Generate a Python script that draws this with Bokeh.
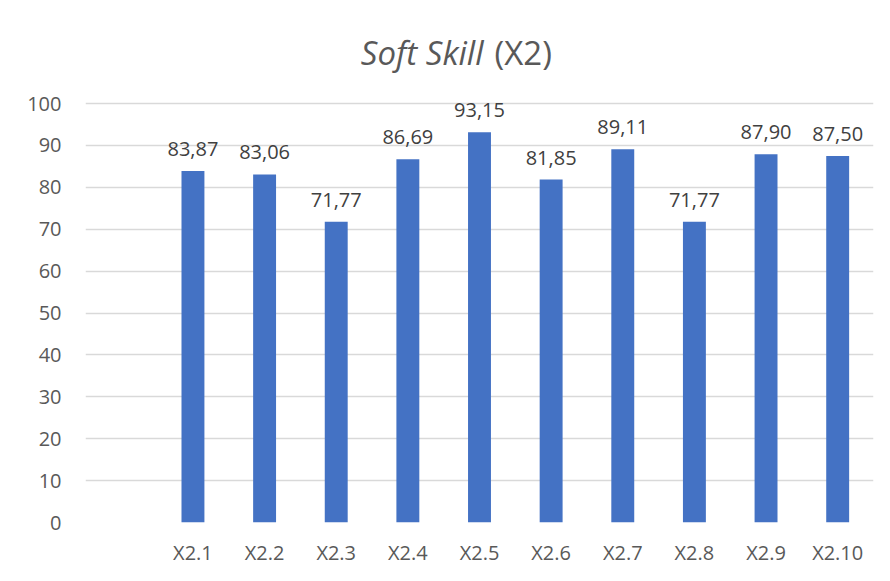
from bokeh.plotting import figure
from bokeh.models import FactorRange, Range1d, ColumnDataSource, LabelSet, Label, FixedTicker
from bokeh.core.properties import value
from bokeh.embed import file_html
from bokeh.resources import INLINE

categories = [" ", "X2.1", "X2.2", "X2.3", "X2.4", "X2.5", "X2.6", "X2.7", "X2.8", "X2.9", "X2.10"]
bar_categories = categories[1:]
values = [83.87, 83.06, 71.77, 86.69, 93.15, 81.85, 89.11, 71.77, 87.90, 87.50]
y_ticks = [0, 10, 20, 30, 40, 50, 60, 70, 80, 90, 100]
title_main = "Soft Skill"
title_sub = "(X2)"

FONT = "Open Sans"

src = ColumnDataSource(dict(
    x=bar_categories,
    top=values,
    lbl=[f"{v:.2f}".replace(".", ",") for v in values],
))

# frame extends above 100 so the title lives inside the frame (not clipped)
FRAME_H = 502
Y_END = 100 * FRAME_H / 419.0

p = figure(
    x_range=FactorRange(*categories, range_padding=0),
    y_range=Range1d(0, Y_END),
    frame_width=788, frame_height=FRAME_H,
    min_border_left=85, min_border_right=5, min_border_top=20, min_border_bottom=50,
    output_backend="svg", toolbar_location=None,
)
p.outline_line_color = None
p.background_fill_color = "white"
p.border_fill_color = "white"

p.vbar(x="x", top="top", width=0.32, source=src, fill_color="#4472C4", line_color=None)

labels = LabelSet(x="x", y="top", text="lbl", source=src, y_offset=15,
                  text_align="center", text_baseline="alphabetic",
                  text_font=value(FONT), text_font_size="20px", text_color="#404040")
p.add_layout(labels)

p.yaxis.ticker = FixedTicker(ticks=y_ticks)
p.yaxis.axis_line_color = None
p.yaxis.major_tick_line_color = None
p.yaxis.minor_tick_line_color = None
p.yaxis.major_label_standoff = 18
p.yaxis.major_label_text_font = FONT
p.yaxis.major_label_text_font_size = "20px"
p.yaxis.major_label_text_color = "#595959"

p.xaxis.axis_line_color = None
p.xaxis.major_tick_line_color = None
p.xaxis.major_label_standoff = 10
p.xaxis.major_label_text_font = FONT
p.xaxis.major_label_text_font_size = "20px"
p.xaxis.major_label_text_color = "#595959"

p.xgrid.grid_line_color = None
p.ygrid.grid_line_color = "#d9d9d9"
p.ygrid.grid_line_width = 1.5

t1 = Label(x=5.5, y=100, x_offset=4, y_offset=51, text=title_main,
           text_font=FONT, text_font_style="italic", text_font_size="33px",
           text_color="#595959", text_align="right", text_baseline="alphabetic")
t2 = Label(x=5.5, y=100, x_offset=15, y_offset=51, text=title_sub,
           text_font=FONT, text_font_size="33px",
           text_color="#595959", text_align="left", text_baseline="alphabetic")
p.add_layout(t1)
p.add_layout(t2)

open("out.html", "w").write(file_html(p, INLINE))
